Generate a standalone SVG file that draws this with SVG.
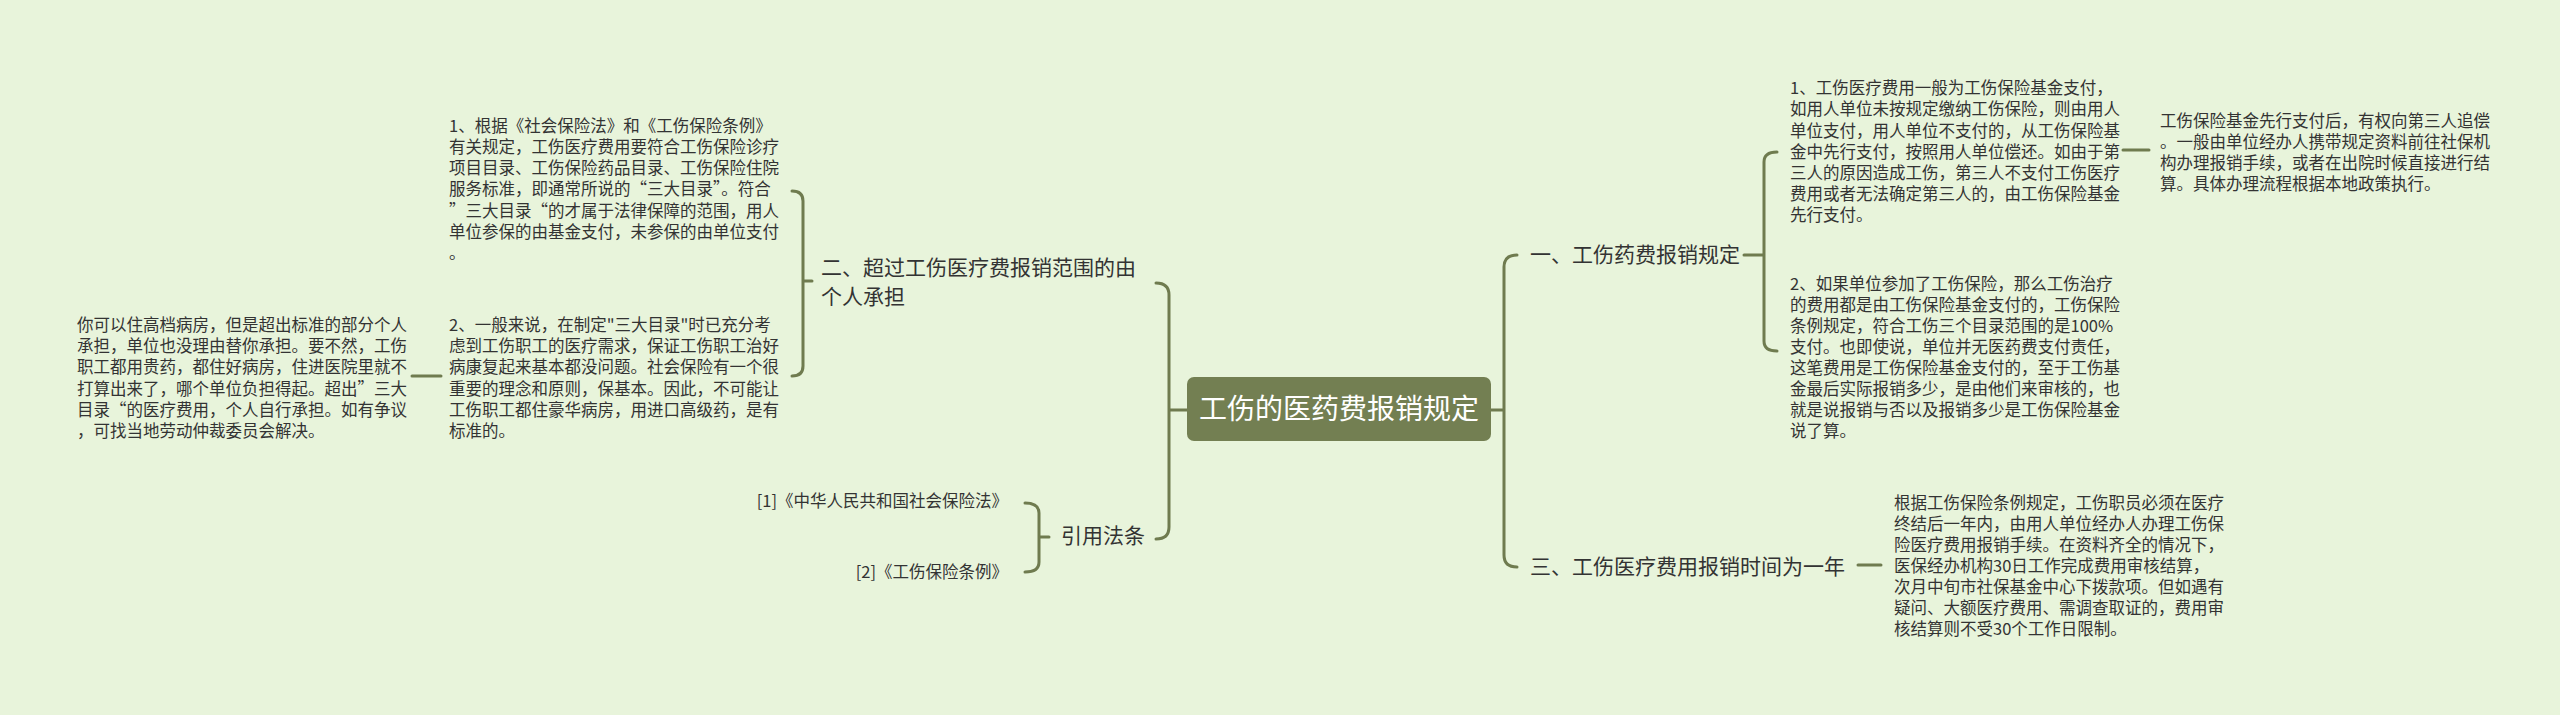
<svg xmlns="http://www.w3.org/2000/svg" width="2560" height="715" viewBox="0 0 2560 715">
<style>
.t{font-family:"Noto Sans CJK SC","Liberation Sans",sans-serif;fill:#333;font-size:16.5px}
.b{font-family:"Noto Sans CJK SC","Liberation Sans",sans-serif;fill:#333;font-size:21px}
.c{stroke:#6f7b4f;stroke-width:3;fill:none;stroke-linecap:round}
</style>
<rect width="2560" height="715" fill="#e8f4db"/>
<g id="connectors" class="c">
<path d="M412,376 L441,376"/>
<path d="M792,191 Q803,191 803,201 L803,366 Q803,376 792,376 M803,281 L812,281"/>
<path d="M1156,283 Q1169,283 1169,295 L1169,527 Q1169,539 1156,539 M1169,410 L1187,410"/>
<path d="M1517,255 Q1504,255 1504,267 L1504,555 Q1504,567 1517,567 M1491,410 L1504,410"/>
<path d="M1777,152 Q1764,152 1764,162 L1764,341 Q1764,351 1777,351 M1744,255 L1764,255"/>
<path d="M2123,150 L2149,150"/>
<path d="M1858,565 L1881,565"/>
<path d="M1025,503 Q1039,503 1039,513 L1039,562 Q1039,572 1025,572 M1039,537 L1049,537"/>
</g>
<g id="center">
<rect x="1187" y="377" width="304" height="64" rx="7" fill="#737f52"/>
<text x="1339" y="419" text-anchor="middle" style="font-family:'Noto Sans CJK SC','Liberation Sans',sans-serif;font-size:28px;fill:#fff">工伤的医药费报销规定</text>
</g>
<g id="n2">
<text class="b" x="821" y="275">二、超过工伤医疗费报销范围的由</text>
<text class="b" x="821" y="304">个人承担</text>
</g>
<g id="n2a">
<text class="t" x="449"><tspan x="449" y="132">1、根据《社会保险法》和《工伤保险条例》</tspan><tspan x="449" y="153">有关规定，工伤医疗费用要符合工伤保险诊疗</tspan><tspan x="449" y="174">项目目录、工伤保险药品目录、工伤保险住院</tspan><tspan x="449" y="195">服务标准，即通常所说的“三大目录”。符合</tspan><tspan x="449" y="217">”三大目录“的才属于法律保障的范围，用人</tspan><tspan x="449" y="238">单位参保的由基金支付，未参保的由单位支付</tspan><tspan x="449" y="259">。</tspan></text>
</g>
<g id="n2b">
<text class="t"><tspan x="449" y="331">2、一般来说，在制定"三大目录"时已充分考</tspan><tspan x="449" y="352">虑到工伤职工的医疗需求，保证工伤职工治好</tspan><tspan x="449" y="373">病康复起来基本都没问题。社会保险有一个很</tspan><tspan x="449" y="395">重要的理念和原则，保基本。因此，不可能让</tspan><tspan x="449" y="416">工伤职工都住豪华病房，用进口高级药，是有</tspan><tspan x="449" y="437">标准的。</tspan></text>
</g>
<g id="n2c">
<text class="t"><tspan x="77" y="331">你可以住高档病房，但是超出标准的部分个人</tspan><tspan x="77" y="352">承担，单位也没理由替你承担。要不然，工伤</tspan><tspan x="77" y="373">职工都用贵药，都住好病房，住进医院里就不</tspan><tspan x="77" y="395">打算出来了，哪个单位负担得起。超出”三大</tspan><tspan x="77" y="416">目录“的医疗费用，个人自行承担。如有争议</tspan><tspan x="77" y="437">，可找当地劳动仲裁委员会解决。</tspan></text>
</g>
<g id="n4">
<text class="b" x="1061" y="543">引用法条</text>
</g>
<g id="ref1"><text class="t" x="1008" y="507" text-anchor="end">[1]《中华人民共和国社会保险法》</text></g>
<g id="ref2"><text class="t" x="1008" y="578" text-anchor="end">[2]《工伤保险条例》</text></g>
<g id="n1">
<text class="b" x="1530" y="262">一、工伤药费报销规定</text>
</g>
<g id="n1a">
<text class="t"><tspan x="1790" y="94">1、工伤医疗费用一般为工伤保险基金支付，</tspan><tspan x="1790" y="115">如用人单位未按规定缴纳工伤保险，则由用人</tspan><tspan x="1790" y="137">单位支付，用人单位不支付的，从工伤保险基</tspan><tspan x="1790" y="158">金中先行支付，按照用人单位偿还。如由于第</tspan><tspan x="1790" y="179">三人的原因造成工伤，第三人不支付工伤医疗</tspan><tspan x="1790" y="200">费用或者无法确定第三人的，由工伤保险基金</tspan><tspan x="1790" y="221">先行支付。</tspan></text>
</g>
<g id="n1a1">
<text class="t"><tspan x="2160" y="127">工伤保险基金先行支付后，有权向第三人追偿</tspan><tspan x="2160" y="148">。一般由单位经办人携带规定资料前往社保机</tspan><tspan x="2160" y="169">构办理报销手续，或者在出院时候直接进行结</tspan><tspan x="2160" y="190">算。具体办理流程根据本地政策执行。</tspan></text>
</g>
<g id="n1b">
<text class="t"><tspan x="1790" y="290">2、如果单位参加了工伤保险，那么工伤治疗</tspan><tspan x="1790" y="311">的费用都是由工伤保险基金支付的，工伤保险</tspan><tspan x="1790" y="332">条例规定，符合工伤三个目录范围的是100%</tspan><tspan x="1790" y="353">支付。也即使说，单位并无医药费支付责任，</tspan><tspan x="1790" y="374">这笔费用是工伤保险基金支付的，至于工伤基</tspan><tspan x="1790" y="395">金最后实际报销多少，是由他们来审核的，也</tspan><tspan x="1790" y="416">就是说报销与否以及报销多少是工伤保险基金</tspan><tspan x="1790" y="437">说了算。</tspan></text>
</g>
<g id="n3">
<text class="b" x="1530" y="574">三、工伤医疗费用报销时间为一年</text>
</g>
<g id="n3a">
<text class="t"><tspan x="1894" y="509">根据工伤保险条例规定，工伤职员必须在医疗</tspan><tspan x="1894" y="530">终结后一年内，由用人单位经办人办理工伤保</tspan><tspan x="1894" y="551">险医疗费用报销手续。在资料齐全的情况下，</tspan><tspan x="1894" y="572">医保经办机构30日工作完成费用审核结算，</tspan><tspan x="1894" y="593">次月中旬市社保基金中心下拨款项。但如遇有</tspan><tspan x="1894" y="614">疑问、大额医疗费用、需调查取证的，费用审</tspan><tspan x="1894" y="635">核结算则不受30个工作日限制。</tspan></text>
</g>
</svg>
